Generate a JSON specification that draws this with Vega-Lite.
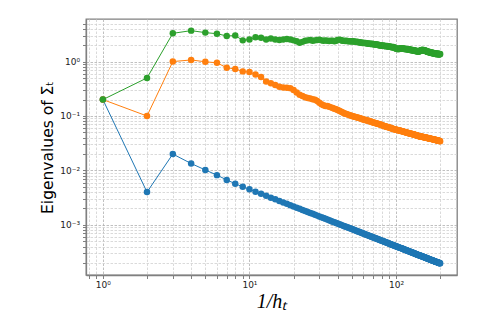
{
"$schema": "https://vega.github.io/schema/vega-lite/v6.json",
"width": 371, "height": 256,
"autosize": {"type": "none"},
"padding": {"left": 86, "top": 19, "right": 41, "bottom": 49},
"background": "white",
"config": {"view": {"stroke": "#808080", "strokeWidth": 1.3}, "font": "DejaVu Sans"},
"data": {"values": [
{"x":1,"b":0.2,"o":0.2,"g":0.2},
{"x":2,"b":0.004,"o":0.1,"g":0.5},
{"x":3,"b":0.02,"o":1.0,"g":3.3},
{"x":4,"b":0.0134,"o":1.07,"g":3.7},
{"x":5,"b":0.0102,"o":0.99,"g":3.4},
{"x":6,"b":0.0082,"o":0.95,"g":3.25},
{"x":7,"b":0.0067,"o":0.77,"g":2.95},
{"x":8,"b":0.0057,"o":0.73,"g":3.0},
{"x":9,"b":0.005,"o":0.66,"g":2.45},
{"x":10,"b":0.0045,"o":0.64,"g":2.55},
{"x":11,"b":0.004073,"o":0.58,"g":2.8},
{"x":12,"b":0.003717,"o":0.52,"g":2.75},
{"x":13,"b":0.003423,"o":0.43,"g":2.55},
{"x":14,"b":0.003164,"o":0.4,"g":2.65},
{"x":15,"b":0.002947,"o":0.37,"g":2.55},
{"x":16,"b":0.002756,"o":0.345,"g":2.5},
{"x":17,"b":0.002582,"o":0.333,"g":2.55},
{"x":18,"b":0.002433,"o":0.33,"g":2.6},
{"x":19,"b":0.0023,"o":0.325,"g":2.55},
{"x":20,"b":0.00218,"o":0.3,"g":2.45},
{"x":21,"b":0.002071,"o":0.27,"g":2.35},
{"x":22,"b":0.001973,"o":0.245,"g":2.22},
{"x":23,"b":0.001883,"o":0.232,"g":2.3},
{"x":24,"b":0.001804,"o":0.222,"g":2.4},
{"x":25,"b":0.001728,"o":0.215,"g":2.45},
{"x":26,"b":0.001658,"o":0.21,"g":2.5},
{"x":27,"b":0.001593,"o":0.204,"g":2.42},
{"x":28,"b":0.001536,"o":0.198,"g":2.45},
{"x":29,"b":0.001479,"o":0.188,"g":2.5},
{"x":30,"b":0.001427,"o":0.175,"g":2.52},
{"x":31,"b":0.001377,"o":0.165,"g":2.45},
{"x":32,"b":0.001334,"o":0.158,"g":2.4},
{"x":33,"b":0.001291,"o":0.153,"g":2.45},
{"x":34,"b":0.001253,"o":0.152,"g":2.4},
{"x":35,"b":0.001214,"o":0.148,"g":2.38},
{"x":36,"b":0.001181,"o":0.144,"g":2.42},
{"x":37,"b":0.001146,"o":0.14,"g":2.4},
{"x":38,"b":0.001116,"o":0.136,"g":2.36},
{"x":39,"b":0.001085,"o":0.133,"g":2.42},
{"x":40,"b":0.001058,"o":0.129,"g":2.5},
{"x":41,"b":0.001029,"o":0.125,"g":2.52},
{"x":42,"b":0.001005,"o":0.121,"g":2.48},
{"x":43,"b":0.000979,"o":0.117,"g":2.42},
{"x":44,"b":0.000957,"o":0.113,"g":2.4},
{"x":45,"b":0.000936,"o":0.11,"g":2.38},
{"x":46,"b":0.000913,"o":0.109,"g":2.4},
{"x":47,"b":0.000894,"o":0.106,"g":2.36},
{"x":48,"b":0.000875,"o":0.104,"g":2.35},
{"x":49,"b":0.000855,"o":0.102,"g":2.37},
{"x":50,"b":0.000838,"o":0.1,"g":2.33},
{"x":51,"b":0.000822,"o":0.0985,"g":2.35},
{"x":52,"b":0.000804,"o":0.097,"g":2.33},
{"x":53,"b":0.000789,"o":0.0958,"g":2.3},
{"x":54,"b":0.000774,"o":0.0945,"g":2.32},
{"x":55,"b":0.000758,"o":0.093,"g":2.28},
{"x":56,"b":0.000745,"o":0.0915,"g":2.25},
{"x":57,"b":0.00073,"o":0.0905,"g":2.27},
{"x":58,"b":0.000717,"o":0.089,"g":2.22},
{"x":59,"b":0.000705,"o":0.0875,"g":2.2},
{"x":60,"b":0.000692,"o":0.086,"g":2.22},
{"x":61,"b":0.00068,"o":0.0855,"g":2.18},
{"x":62,"b":0.000669,"o":0.0842,"g":2.2},
{"x":63,"b":0.000657,"o":0.083,"g":2.16},
{"x":64,"b":0.000647,"o":0.0825,"g":2.15},
{"x":65,"b":0.000637,"o":0.0815,"g":2.13},
{"x":66,"b":0.000626,"o":0.0802,"g":2.15},
{"x":67,"b":0.000616,"o":0.079,"g":2.11},
{"x":68,"b":0.000607,"o":0.0782,"g":2.1},
{"x":69,"b":0.000597,"o":0.077,"g":2.12},
{"x":70,"b":0.000589,"o":0.076,"g":2.08},
{"x":71,"b":0.00058,"o":0.0752,"g":2.06},
{"x":72,"b":0.000572,"o":0.0745,"g":2.08},
{"x":73,"b":0.000563,"o":0.0735,"g":2.05},
{"x":74,"b":0.000555,"o":0.0728,"g":2.03},
{"x":75,"b":0.000548,"o":0.072,"g":2.05},
{"x":76,"b":0.000541,"o":0.0712,"g":2.01},
{"x":77,"b":0.000532,"o":0.0702,"g":1.98},
{"x":78,"b":0.000526,"o":0.0695,"g":2.0},
{"x":79,"b":0.000519,"o":0.0688,"g":1.97},
{"x":80,"b":0.000513,"o":0.068,"g":1.95},
{"x":81,"b":0.000506,"o":0.0672,"g":1.98},
{"x":82,"b":0.000499,"o":0.0665,"g":1.96},
{"x":83,"b":0.000493,"o":0.0657,"g":1.93},
{"x":84,"b":0.000487,"o":0.0648,"g":1.95},
{"x":85,"b":0.000481,"o":0.064,"g":1.92},
{"x":86,"b":0.000474,"o":0.0636,"g":1.9},
{"x":87,"b":0.000469,"o":0.063,"g":1.93},
{"x":88,"b":0.000464,"o":0.0625,"g":1.91},
{"x":89,"b":0.000458,"o":0.0618,"g":1.88},
{"x":90,"b":0.000452,"o":0.0613,"g":1.9},
{"x":91,"b":0.000447,"o":0.0607,"g":1.87},
{"x":92,"b":0.000442,"o":0.0602,"g":1.85},
{"x":93,"b":0.000438,"o":0.0595,"g":1.88},
{"x":94,"b":0.000433,"o":0.059,"g":1.84},
{"x":95,"b":0.000428,"o":0.0585,"g":1.82},
{"x":96,"b":0.000423,"o":0.0578,"g":1.85},
{"x":97,"b":0.000419,"o":0.0572,"g":1.81},
{"x":98,"b":0.000414,"o":0.0568,"g":1.79},
{"x":99,"b":0.00041,"o":0.0563,"g":1.76},
{"x":100,"b":0.000406,"o":0.056,"g":1.74},
{"x":101,"b":0.000402,"o":0.0557,"g":1.72},
{"x":102,"b":0.000397,"o":0.0553,"g":1.7},
{"x":103,"b":0.000393,"o":0.055,"g":1.72},
{"x":104,"b":0.000389,"o":0.0546,"g":1.69},
{"x":105,"b":0.000386,"o":0.0543,"g":1.71},
{"x":106,"b":0.000382,"o":0.0539,"g":1.74},
{"x":107,"b":0.000378,"o":0.0536,"g":1.76},
{"x":108,"b":0.000374,"o":0.0532,"g":1.73},
{"x":109,"b":0.000371,"o":0.0529,"g":1.75},
{"x":110,"b":0.000367,"o":0.0525,"g":1.72},
{"x":111,"b":0.000364,"o":0.0522,"g":1.74},
{"x":112,"b":0.00036,"o":0.0518,"g":1.71},
{"x":113,"b":0.000357,"o":0.0515,"g":1.73},
{"x":114,"b":0.000354,"o":0.0511,"g":1.7},
{"x":115,"b":0.00035,"o":0.0508,"g":1.72},
{"x":116,"b":0.000347,"o":0.0504,"g":1.69},
{"x":117,"b":0.000344,"o":0.05,"g":1.71},
{"x":118,"b":0.000341,"o":0.0497,"g":1.68},
{"x":119,"b":0.000338,"o":0.0494,"g":1.7},
{"x":120,"b":0.000335,"o":0.049,"g":1.67},
{"x":121,"b":0.000332,"o":0.0487,"g":1.69},
{"x":122,"b":0.000329,"o":0.0484,"g":1.66},
{"x":123,"b":0.000326,"o":0.0482,"g":1.68},
{"x":124,"b":0.000323,"o":0.0479,"g":1.65},
{"x":125,"b":0.000321,"o":0.0476,"g":1.63},
{"x":126,"b":0.000318,"o":0.0474,"g":1.65},
{"x":127,"b":0.000315,"o":0.0471,"g":1.62},
{"x":128,"b":0.000313,"o":0.0468,"g":1.64},
{"x":129,"b":0.00031,"o":0.0465,"g":1.61},
{"x":130,"b":0.000308,"o":0.0463,"g":1.6},
{"x":131,"b":0.000305,"o":0.046,"g":1.62},
{"x":132,"b":0.000303,"o":0.0457,"g":1.59},
{"x":133,"b":0.0003,"o":0.0455,"g":1.61},
{"x":134,"b":0.000298,"o":0.0452,"g":1.58},
{"x":135,"b":0.000296,"o":0.0449,"g":1.6},
{"x":136,"b":0.000293,"o":0.0446,"g":1.57},
{"x":137,"b":0.000291,"o":0.0444,"g":1.55},
{"x":138,"b":0.000289,"o":0.0441,"g":1.57},
{"x":139,"b":0.000287,"o":0.0439,"g":1.54},
{"x":140,"b":0.000284,"o":0.0436,"g":1.56},
{"x":141,"b":0.000282,"o":0.0433,"g":1.53},
{"x":142,"b":0.00028,"o":0.0431,"g":1.55},
{"x":143,"b":0.000278,"o":0.0428,"g":1.52},
{"x":144,"b":0.000276,"o":0.0425,"g":1.54},
{"x":145,"b":0.000274,"o":0.0423,"g":1.56},
{"x":146,"b":0.000273,"o":0.0422,"g":1.58},
{"x":147,"b":0.000271,"o":0.042,"g":1.6},
{"x":148,"b":0.000269,"o":0.0419,"g":1.62},
{"x":149,"b":0.000267,"o":0.0417,"g":1.6},
{"x":150,"b":0.000265,"o":0.0416,"g":1.63},
{"x":151,"b":0.000264,"o":0.0414,"g":1.61},
{"x":152,"b":0.000261,"o":0.0413,"g":1.64},
{"x":153,"b":0.000259,"o":0.0411,"g":1.62},
{"x":154,"b":0.000258,"o":0.041,"g":1.6},
{"x":155,"b":0.000256,"o":0.0408,"g":1.62},
{"x":156,"b":0.000254,"o":0.0406,"g":1.59},
{"x":157,"b":0.000253,"o":0.0405,"g":1.61},
{"x":158,"b":0.000251,"o":0.0403,"g":1.58},
{"x":159,"b":0.000249,"o":0.0402,"g":1.56},
{"x":160,"b":0.000248,"o":0.04,"g":1.58},
{"x":161,"b":0.000246,"o":0.0399,"g":1.55},
{"x":162,"b":0.000244,"o":0.0397,"g":1.53},
{"x":163,"b":0.000243,"o":0.0396,"g":1.55},
{"x":164,"b":0.000241,"o":0.0394,"g":1.52},
{"x":165,"b":0.000239,"o":0.0393,"g":1.5},
{"x":166,"b":0.000238,"o":0.0391,"g":1.52},
{"x":167,"b":0.000237,"o":0.039,"g":1.49},
{"x":168,"b":0.000235,"o":0.0388,"g":1.51},
{"x":169,"b":0.000234,"o":0.0387,"g":1.48},
{"x":170,"b":0.000232,"o":0.0385,"g":1.46},
{"x":171,"b":0.000231,"o":0.0384,"g":1.48},
{"x":172,"b":0.00023,"o":0.0382,"g":1.45},
{"x":173,"b":0.000228,"o":0.0381,"g":1.47},
{"x":174,"b":0.000226,"o":0.038,"g":1.44},
{"x":175,"b":0.000225,"o":0.0378,"g":1.46},
{"x":176,"b":0.000224,"o":0.0377,"g":1.43},
{"x":177,"b":0.000223,"o":0.0376,"g":1.45},
{"x":178,"b":0.000221,"o":0.0374,"g":1.42},
{"x":179,"b":0.00022,"o":0.0373,"g":1.44},
{"x":180,"b":0.000219,"o":0.0372,"g":1.41},
{"x":181,"b":0.000218,"o":0.037,"g":1.43},
{"x":182,"b":0.000216,"o":0.0369,"g":1.4},
{"x":183,"b":0.000215,"o":0.0368,"g":1.42},
{"x":184,"b":0.000214,"o":0.0366,"g":1.39},
{"x":185,"b":0.000212,"o":0.0365,"g":1.41},
{"x":186,"b":0.000211,"o":0.0364,"g":1.38},
{"x":187,"b":0.00021,"o":0.0362,"g":1.4},
{"x":188,"b":0.000209,"o":0.0361,"g":1.37},
{"x":189,"b":0.000208,"o":0.036,"g":1.39},
{"x":190,"b":0.000207,"o":0.0358,"g":1.36},
{"x":191,"b":0.000206,"o":0.0357,"g":1.38},
{"x":192,"b":0.000205,"o":0.0356,"g":1.4},
{"x":193,"b":0.000204,"o":0.0354,"g":1.37},
{"x":194,"b":0.000203,"o":0.0353,"g":1.39},
{"x":195,"b":0.000202,"o":0.0352,"g":1.36},
{"x":196,"b":0.000201,"o":0.035,"g":1.38},
{"x":197,"b":0.000199,"o":0.0349,"g":1.35},
{"x":198,"b":0.000198,"o":0.0348,"g":1.37},
{"x":199,"b":0.000197,"o":0.0346,"g":1.36},
{"x":200,"b":0.000197,"o":0.0345,"g":1.38}
]},
"transform": [{"fold": ["b", "o", "g"], "as": ["s", "v"]}],
"mark": {"type": "line", "strokeWidth": 1, "point": {"filled": true, "size": 42, "opacity": 1}},
"encoding": {
  "x": {"field": "x", "type": "quantitative",
    "scale": {"type": "log", "domain": [0.767, 260.7], "nice": false},
    "axis": {
      "values": [0.8,0.9,1,2,3,4,5,6,7,8,9,10,20,30,40,50,60,70,80,90,100,200],
      "labelExpr": "datum.value == 1 ? '10⁰' : datum.value == 10 ? '10¹' : datum.value == 100 ? '10²' : ''",
      "title": "1/hₜ", "titleFont": "Liberation Serif", "titleFontStyle": "italic", "titleFontWeight": "normal", "titleFontSize": 20, "titleColor": "#000", "titlePadding": 2,
      "labelFont": "DejaVu Sans", "labelFontSize": 9, "labelColor": "#222", "labelPadding": 2, "labelFlush": false, "labelOverlap": false,
      "domainColor": "#808080", "domainWidth": 1.3,
      "tickColor": "#808080", "tickSize": 3.5,
      "grid": true,
      "gridColor": {"condition": {"test": "indexof([1,10,100], datum.value) >= 0", "value": "#b0b0b0"}, "value": "#d0d0d0"},
      "gridDash": [2.5, 1.5], "gridWidth": 0.8
    }},
  "y": {"field": "v", "type": "quantitative",
    "scale": {"type": "log", "domain": [0.00012, 6.05], "nice": false},
    "axis": {
      "values": [0.0002,0.0003,0.0004,0.0005,0.0006,0.0007,0.0008,0.0009,0.001,0.002,0.003,0.004,0.005,0.006,0.007,0.008,0.009,0.01,0.02,0.03,0.04,0.05,0.06,0.07,0.08,0.09,0.1,0.2,0.3,0.4,0.5,0.6,0.7,0.8,0.9,1,2,3,4,5],
      "labelExpr": "datum.value == 1 ? '10⁰' : datum.value == 0.1 ? '10⁻¹' : datum.value == 0.01 ? '10⁻²' : datum.value == 0.001 ? '10⁻³' : ''",
      "title": "Eigenvalues of Σₜ", "titleFont": "DejaVu Sans", "titleFontWeight": "normal", "titleFontSize": 15.5, "titleColor": "#000", "titlePadding": 4,
      "labelFont": "DejaVu Sans", "labelFontSize": 9, "labelColor": "#222", "labelPadding": 3, "labelFlush": false, "labelOverlap": false,
      "domainColor": "#808080", "domainWidth": 1.3,
      "tickColor": "#808080", "tickSize": 3.5,
      "grid": true,
      "gridColor": {"condition": {"test": "indexof([0.001,0.01,0.1,1], datum.value) >= 0", "value": "#b0b0b0"}, "value": "#d0d0d0"},
      "gridDash": [2.5, 1.5], "gridWidth": 0.8
    }},
  "color": {"field": "s", "type": "nominal", "legend": null,
    "scale": {"domain": ["b", "o", "g"], "range": ["#1f77b4", "#ff7f0e", "#2ca02c"]}}
}
}
